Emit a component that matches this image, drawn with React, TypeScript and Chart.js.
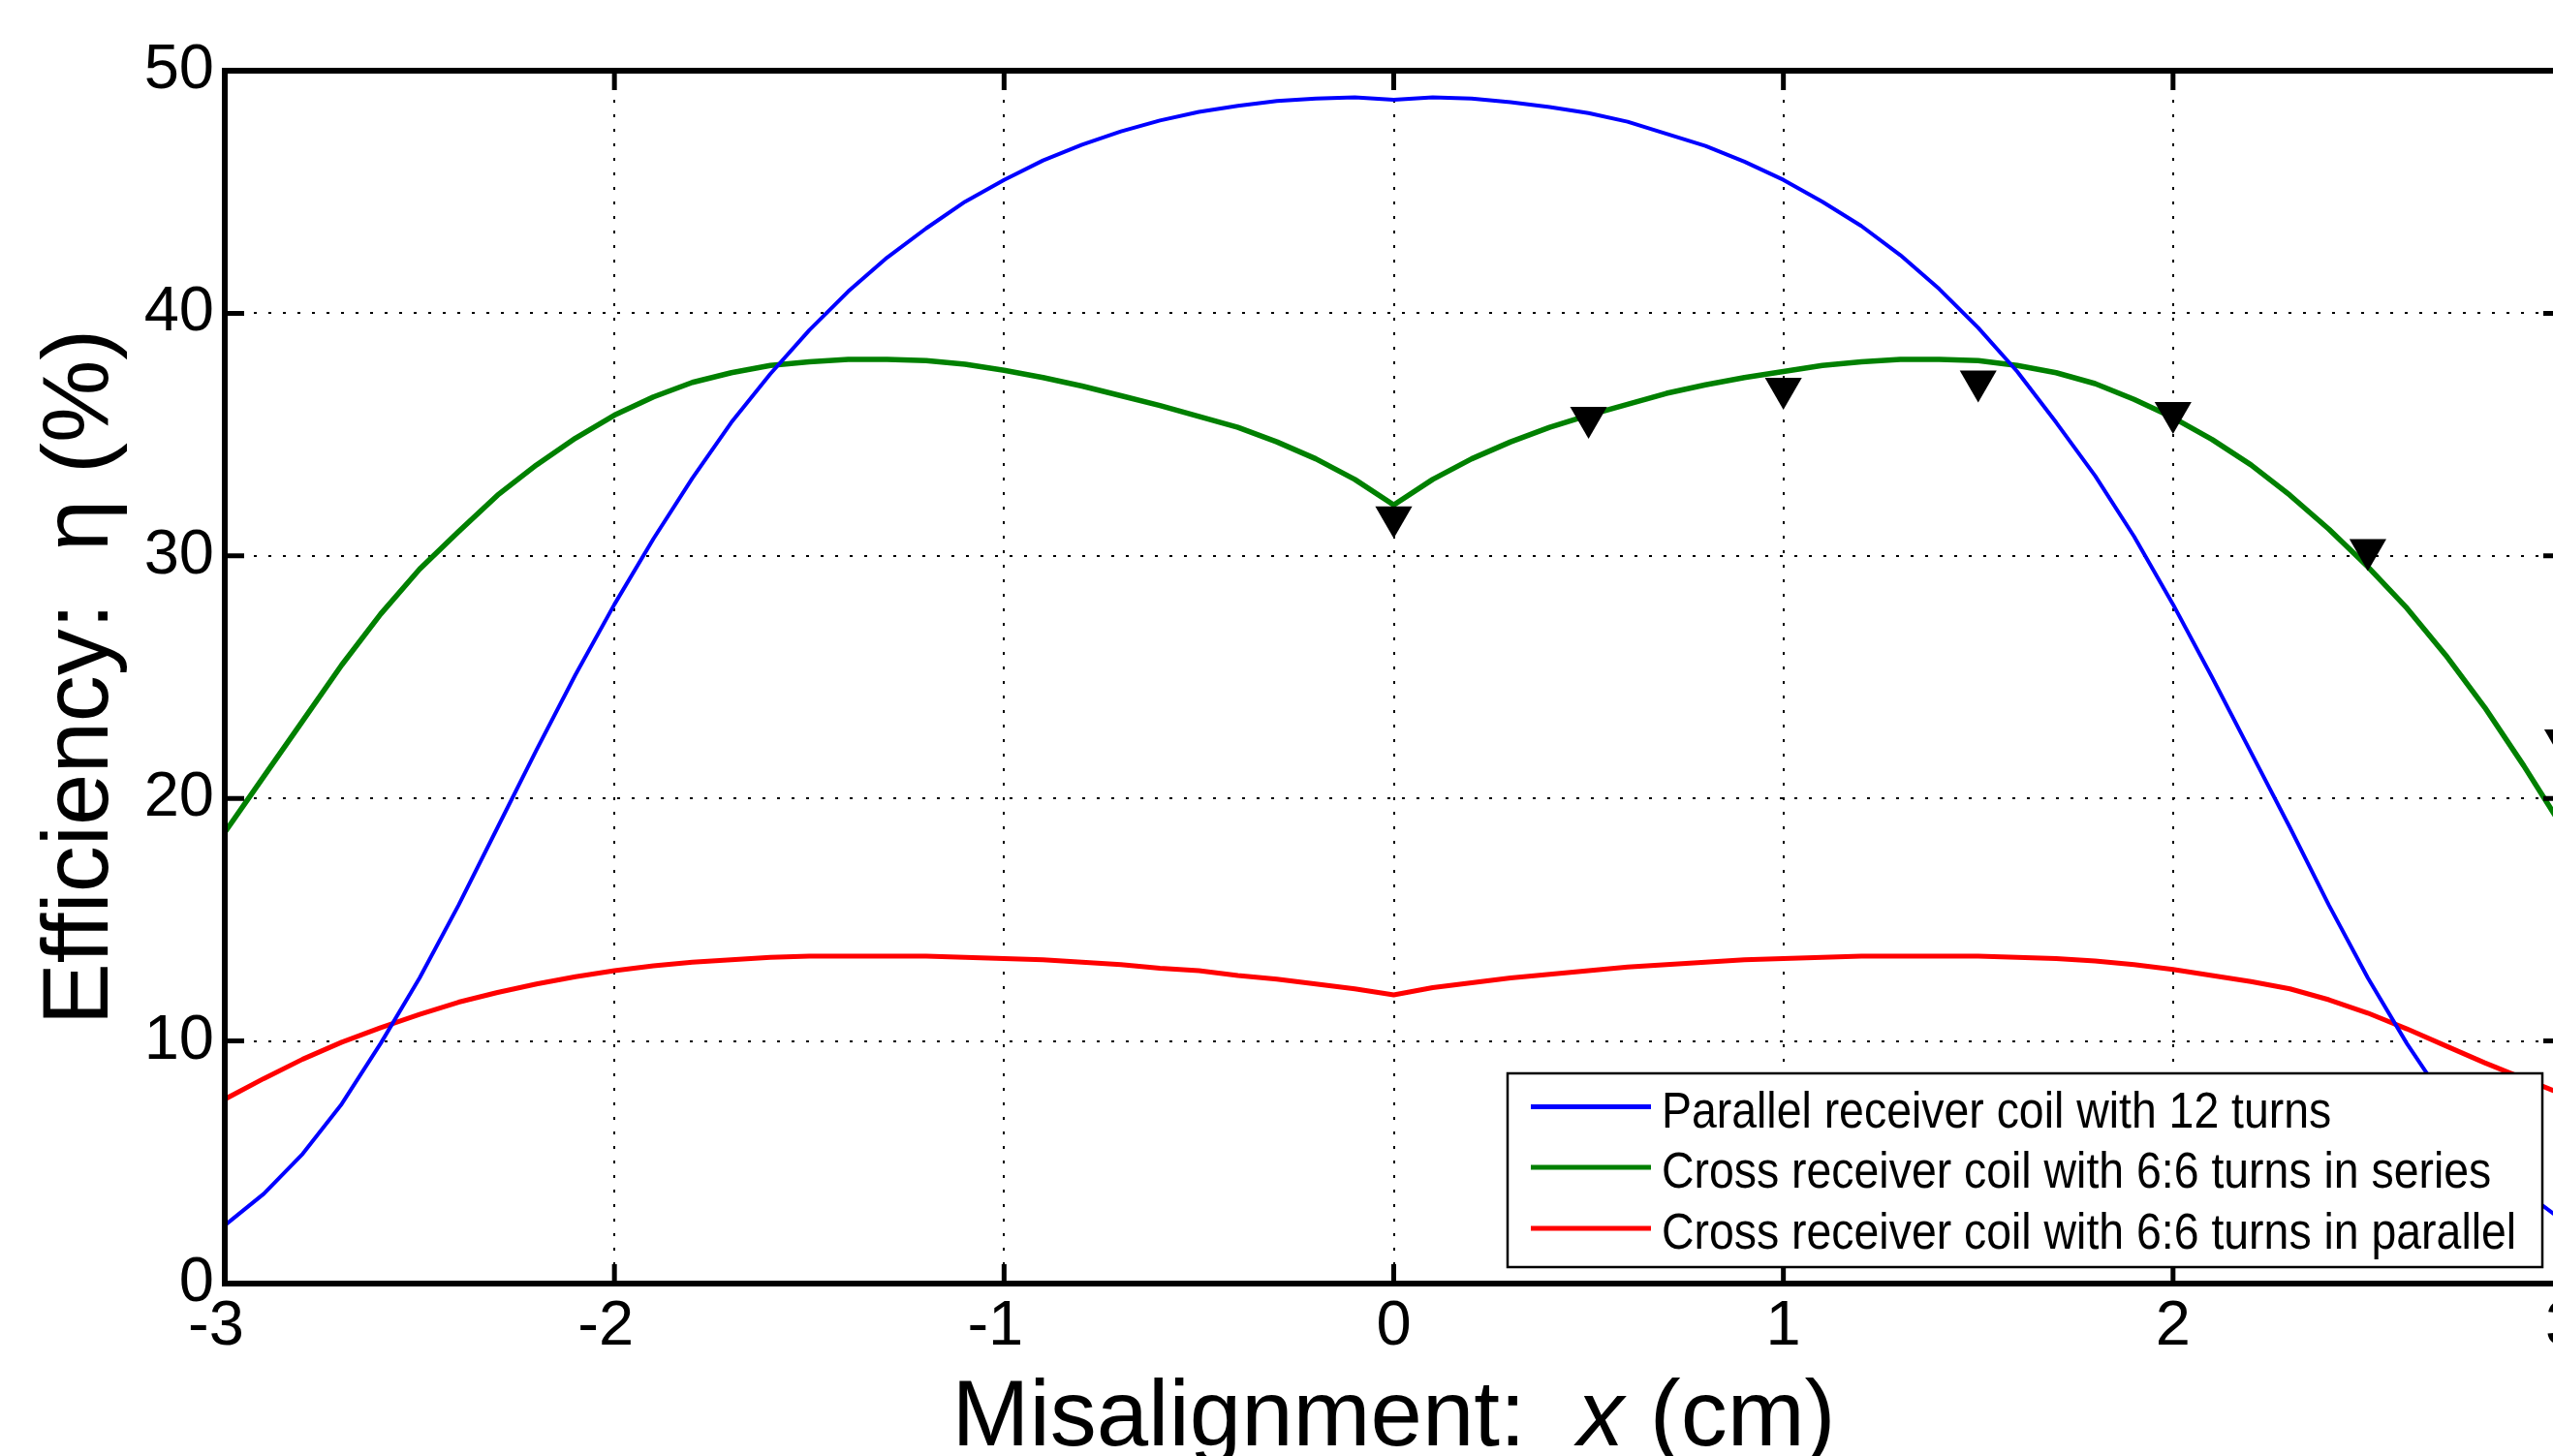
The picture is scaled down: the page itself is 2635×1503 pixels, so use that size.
import React, { useEffect, useRef } from "react";
import { Chart, registerables } from "chart.js";

Chart.register(...registerables);

// ---------- data ----------
const xValues = [
  -3.0, -2.9, -2.8, -2.7, -2.6, -2.5, -2.4, -2.3, -2.2, -2.1,
  -2.0, -1.9, -1.8, -1.7, -1.6, -1.5, -1.4, -1.3, -1.2, -1.1,
  -1.0, -0.9, -0.8, -0.7, -0.6, -0.5, -0.4, -0.3, -0.2, -0.1,
  0.0,
  0.1, 0.2, 0.3, 0.4, 0.5, 0.6, 0.7, 0.8, 0.9, 1.0,
  1.1, 1.2, 1.3, 1.4, 1.5, 1.6, 1.7, 1.8, 1.9, 2.0,
  2.1, 2.2, 2.3, 2.4, 2.5, 2.6, 2.7, 2.8, 2.9, 3.0,
];

const parallel12Turns = [
  2.4, 3.7, 5.35, 7.4, 9.9, 12.6, 15.6, 18.8, 22.0, 25.1,
  28.0, 30.7, 33.2, 35.5, 37.5, 39.3, 40.9, 42.3, 43.5, 44.6,
  45.5, 46.3, 46.95, 47.5, 47.95, 48.3, 48.55, 48.75, 48.85, 48.9,
  48.8,
  48.9, 48.85, 48.7, 48.5, 48.25, 47.9, 47.4, 46.9, 46.25, 45.5,
  44.6, 43.6, 42.4, 41.0, 39.4, 37.6, 35.5, 33.3, 30.8, 28.0,
  25.0, 21.9, 18.8, 15.6, 12.6, 9.9, 7.5, 5.4, 3.8, 2.6,
];

const crossSeries66 = [
  18.6, 20.9, 23.2, 25.5, 27.6, 29.45, 31.0, 32.5, 33.75, 34.85,
  35.8, 36.55, 37.15, 37.55, 37.85, 38.0, 38.1, 38.1, 38.05, 37.9,
  37.65, 37.35, 37.0, 36.6, 36.2, 35.75, 35.3, 34.7, 34.0, 33.15,
  32.1,
  33.15, 34.0, 34.7, 35.3, 35.8, 36.25, 36.7, 37.05, 37.35, 37.6,
  37.85, 38.0, 38.1, 38.1, 38.05, 37.85, 37.55, 37.1, 36.45, 35.7,
  34.8, 33.75, 32.5, 31.1, 29.55, 27.85, 25.9, 23.75, 21.35, 18.8,
];

const crossParallel66 = [
  7.6, 8.45, 9.25, 9.95, 10.55, 11.1, 11.6, 12.0, 12.35, 12.65,
  12.9, 13.1, 13.25, 13.35, 13.45, 13.5, 13.5, 13.5, 13.5, 13.45,
  13.4, 13.35, 13.25, 13.15, 13.0, 12.9, 12.7, 12.55, 12.35, 12.15,
  11.9,
  12.2, 12.4, 12.6, 12.75, 12.9, 13.05, 13.15, 13.25, 13.35, 13.4,
  13.45, 13.5, 13.5, 13.5, 13.5, 13.45, 13.4, 13.3, 13.15, 12.95,
  12.7, 12.45, 12.15, 11.7, 11.15, 10.5, 9.8, 9.1, 8.45, 7.8,
];

const measuredX = [0, 0.5, 1, 1.5, 2, 2.5, 3];
const measuredSeries = [31.6, 35.7, 36.9, 37.2, 35.9, 30.25, 22.4];

const xTickValues = [-3, -2, -1, 0, 1, 2, 3];
const yTickValues = [0, 10, 20, 30, 40, 50];

const seriesLabels = [
  "Parallel receiver coil with 12 turns",
  "Cross receiver coil with 6:6 turns in series",
  "Cross receiver coil with 6:6 turns in parallel",
];
const seriesColors = ["#0000ff", "#008000", "#ff0000"];

const xTitleParts = ["Misalignment:  ", "x", " (cm)"];
const yTitle = "Efficiency:  \u03b7 (%)";

// ---------- layout constants ----------
const FONT = '"Liberation Sans", Arial, Helvetica, sans-serif';
const VIEW_W = 2635;
const VIEW_H = 1503;
const CANVAS_W = 2700;
const CANVAS_H = 1560;
const AREA_LEFT = 232;
const AREA_TOP = 73;
const AREA_RIGHT = 2645;
const AREA_BOTTOM = 1325;

const toPoints = (xs: number[], ys: number[]) => xs.map((x, i) => ({ x, y: ys[i] }));

const framePlugin = {
  id: "matlabFrame",
  afterDatasetsDraw(chart: any) {
    const { ctx, chartArea: a, scales } = chart;
    ctx.save();
    ctx.setLineDash([]);
    ctx.strokeStyle = "#000";
    ctx.lineWidth = 5;
    const tl = 20;
    ctx.beginPath();
    xTickValues.forEach((v) => {
      const px = scales.x.getPixelForValue(v);
      ctx.moveTo(px, a.bottom);
      ctx.lineTo(px, a.bottom - tl);
      ctx.moveTo(px, a.top);
      ctx.lineTo(px, a.top + tl);
    });
    yTickValues.forEach((v) => {
      const py = scales.y.getPixelForValue(v);
      ctx.moveTo(a.left, py);
      ctx.lineTo(a.left + tl, py);
      ctx.moveTo(a.right, py);
      ctx.lineTo(a.right - tl, py);
    });
    ctx.stroke();
    ctx.lineWidth = 6;
    ctx.strokeRect(a.left, a.top, a.right - a.left, a.bottom - a.top);
    ctx.restore();
  },
};

const legendPlugin = {
  id: "matlabLegend",
  afterDraw(chart: any) {
    const { ctx, chartArea: a } = chart;
    const boxRight = a.right - 21;
    const boxBottom = a.bottom - 17;
    const boxW = 1068;
    const boxH = 200;
    const left = boxRight - boxW;
    const top = boxBottom - boxH;
    ctx.save();
    ctx.setLineDash([]);
    ctx.fillStyle = "#fff";
    ctx.fillRect(left, top, boxW, boxH);
    ctx.strokeStyle = "#000";
    ctx.lineWidth = 2.5;
    ctx.strokeRect(left, top, boxW, boxH);
    const rowCenters = [34.5, 97, 160];
    seriesLabels.forEach((label, i) => {
      const cy = top + rowCenters[i];
      ctx.strokeStyle = seriesColors[i];
      ctx.lineWidth = 5;
      ctx.beginPath();
      ctx.moveTo(left + 24, cy);
      ctx.lineTo(left + 148, cy);
      ctx.stroke();
      ctx.save();
      ctx.translate(left + 159, cy + 21);
      ctx.scale(0.91, 1);
      ctx.fillStyle = "#000";
      ctx.font = `51px ${FONT}`;
      ctx.textAlign = "left";
      ctx.textBaseline = "alphabetic";
      ctx.fillText(label, 0, 0);
      ctx.restore();
    });
    ctx.restore();
  },
};

const titlesPlugin = {
  id: "axisTitles",
  afterDraw(chart: any) {
    const { ctx, chartArea: a } = chart;
    ctx.save();
    ctx.fillStyle = "#000";
    ctx.textBaseline = "alphabetic";
    ctx.textAlign = "left";
    const normal = `96px ${FONT}`;
    const italic = `italic 96px ${FONT}`;
    const fonts = [normal, italic, normal];
    const widths = xTitleParts.map((t, i) => {
      ctx.font = fonts[i];
      return ctx.measureText(t).width;
    });
    const total = widths.reduce((s, w) => s + w, 0);
    let x = (a.left + a.right) / 2 - total / 2;
    const y = a.bottom + 167;
    xTitleParts.forEach((t, i) => {
      ctx.font = fonts[i];
      ctx.fillText(t, x, y);
      x += widths[i];
    });
    ctx.translate(111, (a.top + a.bottom) / 2);
    ctx.rotate(-Math.PI / 2);
    ctx.font = normal;
    ctx.textAlign = "center";
    ctx.fillText(yTitle, 0, 0);
    ctx.restore();
  },
};

export default function App() {
  const canvasRef = useRef<HTMLCanvasElement | null>(null);

  useEffect(() => {
    const canvas = canvasRef.current;
    if (!canvas) return;
    const chart = new Chart(canvas, {
      type: "line",
      data: {
        datasets: [
          {
            label: seriesLabels[0],
            data: toPoints(xValues, parallel12Turns),
            borderColor: seriesColors[0],
            backgroundColor: seriesColors[0],
            borderWidth: 4,
            borderJoinStyle: "round",
            pointRadius: 0,
            fill: false,
            tension: 0,
            order: 2,
          },
          {
            label: seriesLabels[1],
            data: toPoints(xValues, crossSeries66),
            borderColor: seriesColors[1],
            backgroundColor: seriesColors[1],
            borderWidth: 5.5,
            borderJoinStyle: "round",
            pointRadius: 0,
            fill: false,
            tension: 0,
            order: 3,
          },
          {
            label: seriesLabels[2],
            data: toPoints(xValues, crossParallel66),
            borderColor: seriesColors[2],
            backgroundColor: seriesColors[2],
            borderWidth: 5,
            borderJoinStyle: "round",
            pointRadius: 0,
            fill: false,
            tension: 0,
            order: 4,
          },
          {
            label: "Measured (series)",
            data: toPoints(measuredX, measuredSeries),
            showLine: false,
            pointStyle: "triangle",
            rotation: 180,
            pointRadius: 22,
            pointBackgroundColor: "#000",
            pointBorderColor: "#000",
            pointBorderWidth: 0,
            clip: false,
            order: 1,
          } as any,
        ],
      },
      options: {
        responsive: false,
        maintainAspectRatio: false,
        animation: false,
        devicePixelRatio: 1,
        events: [],
        layout: {
          padding: { left: 0, top: AREA_TOP, right: CANVAS_W - AREA_RIGHT, bottom: 0 },
        },
        plugins: {
          legend: { display: false },
          tooltip: { enabled: false },
        },
        scales: {
          x: {
            type: "linear",
            min: -3,
            max: 3,
            afterFit: (s: any) => {
              s.height = CANVAS_H - AREA_BOTTOM;
            },
            afterBuildTicks: (s: any) => {
              s.ticks = xTickValues.map((v) => ({ value: v }));
            },
            ticks: {
              autoSkip: false,
              maxRotation: 0,
              minRotation: 0,
              padding: 6,
              color: "#000",
              font: { family: FONT, size: 65 },
              callback: (v: any) => (Number(v) < 0 ? `${v} ` : `${v}`),
            },
            grid: { color: "#000", lineWidth: 2, drawTicks: false },
            border: { display: false, dash: [3, 12] },
          },
          y: {
            type: "linear",
            min: 0,
            max: 50,
            afterFit: (s: any) => {
              s.width = AREA_LEFT;
            },
            afterBuildTicks: (s: any) => {
              s.ticks = yTickValues.map((v) => ({ value: v }));
            },
            ticks: {
              autoSkip: false,
              padding: 11,
              color: "#000",
              font: { family: FONT, size: 65 },
            },
            grid: { color: "#000", lineWidth: 2, drawTicks: false },
            border: { display: false, dash: [3, 12] },
          },
        },
      },
      plugins: [framePlugin, legendPlugin, titlesPlugin],
    });
    return () => chart.destroy();
  }, []);

  return (
    <div
      style={{
        position: "fixed",
        left: 0,
        top: 0,
        width: VIEW_W,
        height: VIEW_H,
        overflow: "hidden",
        background: "#fff",
      }}
    >
      <canvas
        ref={canvasRef}
        width={CANVAS_W}
        height={CANVAS_H}
        style={{ display: "block", width: CANVAS_W, height: CANVAS_H }}
      />
    </div>
  );
}
